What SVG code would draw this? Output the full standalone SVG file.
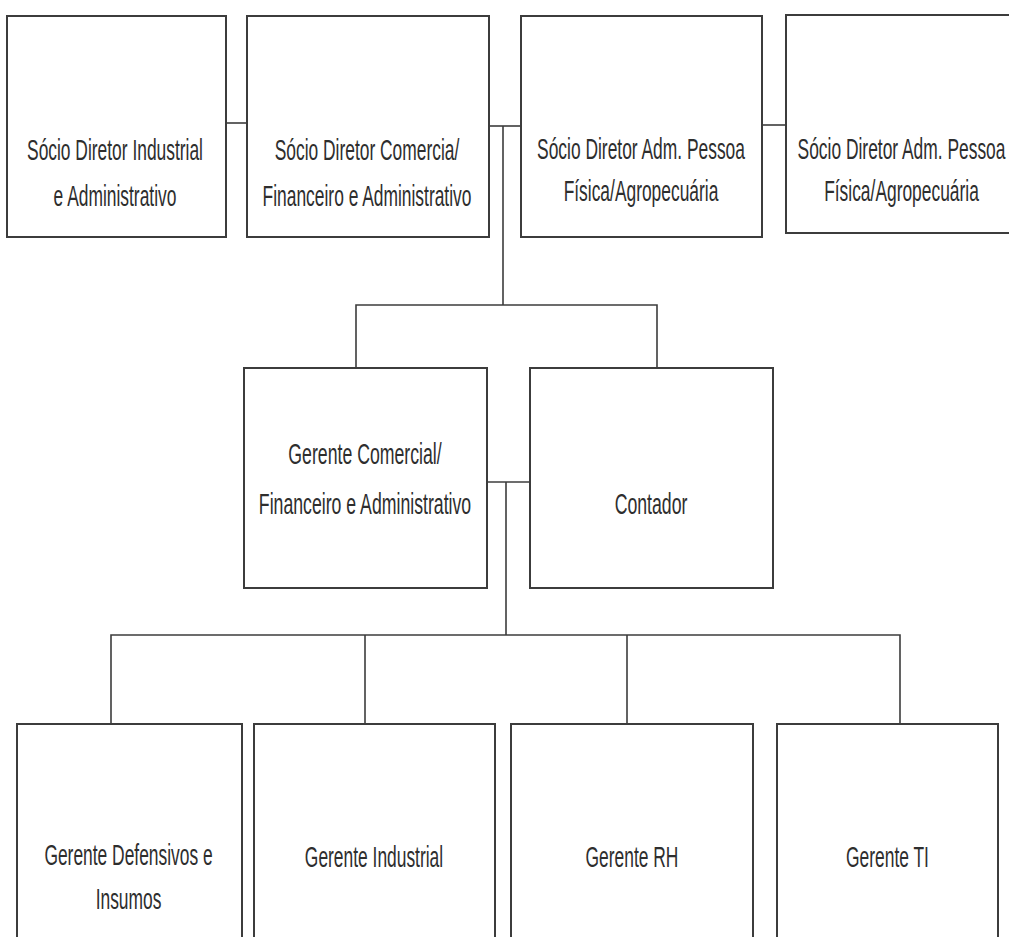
<svg xmlns="http://www.w3.org/2000/svg" width="1009" height="937" viewBox="0 0 1009 937">
  <style>
    .box { fill: #ffffff; stroke: #3c3c3c; stroke-width: 2; }
    .link { fill: none; stroke: #3c3c3c; stroke-width: 1.6; }
    .lbl { font-family: "Liberation Sans", Arial, sans-serif; font-size: 29px; fill: #2e2e2e; text-anchor: middle; }
  </style>
  <rect width="1009" height="937" fill="#ffffff"/>

  <!-- connectors -->
  <g id="connectors">
    <path class="link" d="M226 123 H247"/>
    <path class="link" d="M489 126 H521"/>
    <path class="link" d="M762 125 H786"/>
    <path class="link" d="M503 126 V305"/>
    <path class="link" d="M356 368 V305 H657 V368"/>
    <path class="link" d="M487 482 H530"/>
    <path class="link" d="M506 482 V635"/>
    <path class="link" d="M111 724 V635 H900 V724"/>
    <path class="link" d="M365 635 V724"/>
    <path class="link" d="M627 635 V724"/>
  </g>

  <!-- top row: partners -->
  <g id="socio-industrial">
    <rect class="box" x="7" y="16" width="219" height="221"/>
    <text class="lbl" transform="translate(115 160) scale(0.6 1)"><tspan x="0" y="0">Sócio Diretor Industrial</tspan><tspan x="0" y="46">e Administrativo</tspan></text>
  </g>
  <g id="socio-comercial">
    <rect class="box" x="247" y="16" width="242" height="221"/>
    <text class="lbl" transform="translate(367 159.5) scale(0.6 1)"><tspan x="0" y="0">Sócio Diretor Comercia/</tspan><tspan x="0" y="46.5">Financeiro e Administrativo</tspan></text>
  </g>
  <g id="socio-adm-1">
    <rect class="box" x="521" y="16" width="241" height="221"/>
    <text class="lbl" transform="translate(641 159) scale(0.6 1)"><tspan x="0" y="0">Sócio Diretor Adm. Pessoa</tspan><tspan x="0" y="42">Física/Agropecuária</tspan></text>
  </g>
  <g id="socio-adm-2">
    <rect class="box" x="786" y="15" width="231" height="218"/>
    <text class="lbl" transform="translate(901.5 159) scale(0.6 1)"><tspan x="0" y="0">Sócio Diretor Adm. Pessoa</tspan><tspan x="0" y="42">Física/Agropecuária</tspan></text>
  </g>

  <!-- middle row -->
  <g id="gerente-comercial">
    <rect class="box" x="244" y="368" width="243" height="220"/>
    <text class="lbl" transform="translate(365 464) scale(0.61 1)"><tspan x="0" y="0">Gerente Comercial/</tspan><tspan x="0" y="50">Financeiro e Administrativo</tspan></text>
  </g>
  <g id="contador">
    <rect class="box" x="530" y="368" width="243" height="220"/>
    <text class="lbl" transform="translate(651 514) scale(0.61 1)">Contador</text>
  </g>

  <!-- bottom row: managers -->
  <g id="gerente-defensivos">
    <rect class="box" x="17" y="724" width="225" height="240"/>
    <text class="lbl" transform="translate(128.5 865) scale(0.6 1)"><tspan x="0" y="0">Gerente Defensivos e</tspan><tspan x="0" y="44">Insumos</tspan></text>
  </g>
  <g id="gerente-industrial">
    <rect class="box" x="254" y="724" width="241" height="240"/>
    <text class="lbl" transform="translate(374 866.5) scale(0.6 1)">Gerente Industrial</text>
  </g>
  <g id="gerente-rh">
    <rect class="box" x="511" y="724" width="242" height="240"/>
    <text class="lbl" transform="translate(632 867) scale(0.6 1)">Gerente RH</text>
  </g>
  <g id="gerente-ti">
    <rect class="box" x="777" y="724" width="221" height="240"/>
    <text class="lbl" transform="translate(887.5 867) scale(0.6 1)">Gerente TI</text>
  </g>
</svg>
